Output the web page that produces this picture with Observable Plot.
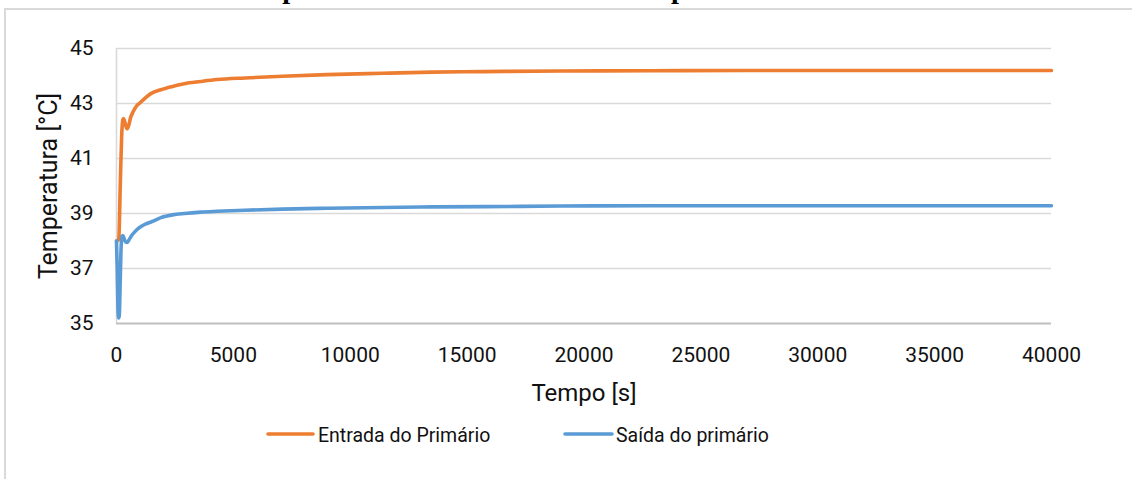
<!DOCTYPE html>
<html>
<head>
<meta charset="utf-8">
<script src="https://cdn.jsdelivr.net/npm/d3@7"></script>
<script src="https://cdn.jsdelivr.net/npm/@observablehq/plot@0.6"></script>
<style>
  html, body { margin: 0; padding: 0; background: #fff; }
  #page { position: relative; width: 1132px; height: 479px; overflow: hidden; background: #fff; }
  #frame { position: absolute; left: 4px; top: 8px; width: 1300px; height: 700px; border: 2px solid #d9d9d9; box-sizing: border-box; }
  #chart { position: absolute; left: 0; top: 0; }
  #overlay { position: absolute; left: 0; top: 0; }
</style>
</head>
<body>
<div id="page">
  <div id="frame"></div>
  <div id="chart"></div>
  <svg id="overlay" width="1132" height="479"></svg>
</div>
<script>
// ---- data ----
const titleText = "Temperaturas de entrada e saída do primário";
const xLabel = "Tempo [s]";
const yLabel = "Temperatura [°C]";
const seriesNames = ["Entrada do Primário", "Saída do primário"];
const seriesColors = ["#ED7D31", "#5B9BD5"];
const xTicks = [0, 5000, 10000, 15000, 20000, 25000, 30000, 35000, 40000];
const yTicks = [35, 37, 39, 41, 43, 45];

const tEntrada = [0, 60, 100, 160, 220, 270, 300, 340, 400, 460, 520, 600, 700, 850, 1000, 1200, 1450, 1900, 2400, 2900, 3600, 4300, 5500, 7100, 9000, 11400, 13500, 15700, 19000, 22800, 27000, 32000, 36000, 40000];
const entrada  = [38.0, 38.02, 38.1, 40.0, 41.8, 42.4, 42.45, 42.38, 42.18, 42.08, 42.2, 42.48, 42.68, 42.9, 43.02, 43.18, 43.35, 43.5, 43.62, 43.72, 43.8, 43.87, 43.93, 43.99, 44.05, 44.1, 44.14, 44.16, 44.18, 44.19, 44.2, 44.2, 44.2, 44.2];

const tSaida = [0, 30, 60, 90, 120, 150, 190, 230, 270, 320, 380, 460, 540, 650, 800, 1000, 1200, 1500, 1900, 2400, 2900, 3600, 4300, 5500, 7100, 9000, 11400, 13500, 15700, 19000, 22800, 27000, 32000, 40000];
const saida  = [38.0, 37.0, 35.6, 35.2, 35.3, 36.2, 37.6, 38.15, 38.2, 38.1, 37.98, 37.95, 38.05, 38.2, 38.35, 38.5, 38.6, 38.7, 38.85, 38.95, 39.0, 39.05, 39.08, 39.12, 39.16, 39.19, 39.22, 39.24, 39.25, 39.27, 39.28, 39.28, 39.28, 39.28];

// ---- build table ----
const rows = [
  ...tEntrada.map((t, i) => ({t, v: entrada[i], s: seriesNames[0]})),
  ...tSaida.map((t, i) => ({t, v: saida[i], s: seriesNames[1]}))
];

const W = 1132, H = 410;
const plot = Plot.plot({
  width: W,
  height: H,
  marginLeft: 116,
  marginRight: 81,
  marginTop: 48,
  marginBottom: 87,
  style: {fontFamily: "Roboto", fontSize: "21px", color: "#111", background: "transparent", overflow: "visible"},
  x: {domain: [0, 40000]},
  y: {domain: [35, 45]},
  color: {domain: seriesNames, range: seriesColors},
  marks: [
    Plot.ruleY(yTicks.filter(d => d !== 35), {stroke: "#d9d9d9", strokeWidth: 1.6}),
    Plot.ruleX([0], {y1: 35, y2: 45, stroke: "#d9d9d9", strokeWidth: 1.6}),
    Plot.ruleY([35], {stroke: "#bfbfbf", strokeWidth: 1.8}),
    Plot.axisX({ticks: xTicks, tickSize: 0, tickPadding: 24, tickFormat: d3.format("d"), label: null}),
    Plot.axisY({ticks: yTicks, tickSize: 0, tickPadding: 23, tickFormat: d3.format("d"), label: null}),
    Plot.text([xLabel], {frameAnchor: "bottom", dy: 70, lineAnchor: "middle", textAnchor: "middle", fontSize: 24, fill: "#111"}),
    Plot.text([yLabel], {frameAnchor: "left", dx: -68, rotate: -90, lineAnchor: "middle", textAnchor: "middle", fontSize: 25, fill: "#111"}),
    Plot.line(rows, {x: "t", y: "v", stroke: "s", z: "s", strokeWidth: 3.6, curve: "monotone-x", strokeLinejoin: "round", strokeLinecap: "round"})
  ]
});
document.getElementById("chart").appendChild(plot);

// ---- overlay: cut-off title and legend ----
const ns = "http://www.w3.org/2000/svg";
const ov = document.getElementById("overlay");
const title = document.createElementNS(ns, "text");
title.textContent = titleText;
title.setAttribute("x", 0);
title.setAttribute("font-family", "Liberation Serif");
title.setAttribute("font-weight", "bold");
let fs = 30;
title.setAttribute("font-size", fs);
title.setAttribute("fill", "#000");
ov.appendChild(title);
const i1 = titleText.indexOf("p");
const i2 = titleText.lastIndexOf("p");
let p1 = title.getStartPositionOfChar(i1).x, p2 = title.getStartPositionOfChar(i2).x;
fs = fs * 389 / (p2 - p1);
title.setAttribute("font-size", fs);
p1 = title.getStartPositionOfChar(i1).x;
title.setAttribute("x", 287 - (p1 + 0.17 * fs));
// baseline just above the top edge so that only the descenders of the "p"s show
title.setAttribute("y", -(0.217 * fs - 3.8));

const legendY = 434;
const legendItems = [
  {x1: 268, x2: 313, tx: 318},
  {x1: 565, x2: 612, tx: 616}
];
legendItems.forEach((it, i) => {
  const ln = document.createElementNS(ns, "line");
  ln.setAttribute("x1", it.x1); ln.setAttribute("x2", it.x2);
  ln.setAttribute("y1", legendY); ln.setAttribute("y2", legendY);
  ln.setAttribute("stroke", seriesColors[i]);
  ln.setAttribute("stroke-width", 3.6);
  ln.setAttribute("stroke-linecap", "round");
  ov.appendChild(ln);
  const tx = document.createElementNS(ns, "text");
  tx.textContent = seriesNames[i];
  tx.setAttribute("x", it.tx);
  tx.setAttribute("y", legendY + 8);
  tx.setAttribute("font-family", "Roboto");
  tx.setAttribute("font-size", 19.5);
  tx.setAttribute("fill", "#111");
  ov.appendChild(tx);
});
</script>
</body>
</html>
